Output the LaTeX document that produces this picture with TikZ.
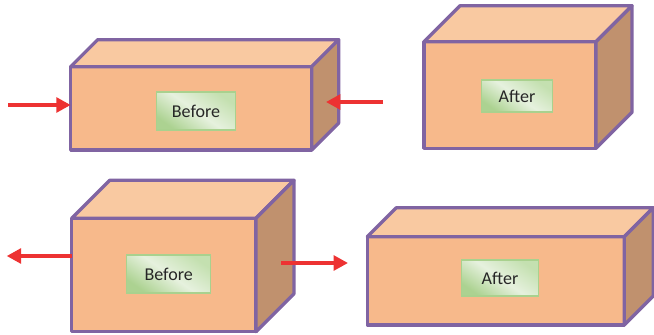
\documentclass[tikz,border=0pt]{standalone}
\usepackage{fontspec}
\setmainfont{Carlito}
\usetikzlibrary{arrows.meta,calc}
\definecolor{facefront}{RGB}{247,185,139}
\definecolor{facetop}{RGB}{249,201,161}
\definecolor{faceside}{RGB}{192,145,110}
\definecolor{edgepurple}{RGB}{128,100,162}
\definecolor{pushred}{RGB}{237,50,50}
\definecolor{tagdark}{RGB}{172,210,145}
\definecolor{tagmid}{RGB}{196,224,176}
\definecolor{taglight}{RGB}{230,241,222}
\definecolor{tagedge}{RGB}{169,209,142}
\newcommand{\px}{0.03cm}
% top and right faces behind a front face node: #1 node, #2 depth
\newcommand{\blockfaces}[2]{%
  \filldraw[topface] (#1.north west) -- ++(#2,-#2) -- ($(#1.north east)+(#2,-#2)$)
    -- (#1.north east) -- cycle;
  \filldraw[sideface] (#1.north east) -- ++(#2,-#2) -- ($(#1.south east)+(#2,-#2)$)
    -- (#1.south east) -- cycle;
}
\tikzset{
  frontface/.style={draw=edgepurple,fill=facefront,line width=2.8pt,line join=round,
    outer sep=0pt,inner sep=0pt,anchor=north west},
  topface/.style={draw=edgepurple,fill=facetop,line width=2.8pt,line join=round},
  sideface/.style={draw=edgepurple,fill=faceside,line width=2.8pt,line join=round},
  tag/.style={draw=tagedge,line width=0.9pt,top color=tagmid,bottom color=tagdark,
    middle color=taglight,shading angle=-35,inner sep=1pt,
    font=\fontsize{15.4}{18}\selectfont,text=black!85},
  force/.style={draw=pushred,line width=3pt,-{Triangle[length=4.3mm,width=4.4mm]}},
}
\begin{document}
\begin{tikzpicture}[x=\px,y=-\px]
  \useasboundingbox (0,0) rectangle (654,334);
  % compressed block
  \node[frontface,minimum width=241*\px,minimum height=83.3*\px] (f1) at (70.7,66.7) {};
  \blockfaces{f1}{27}
  \node[tag,minimum width=79*\px,minimum height=38*\px] (t1) at (196,111) {Before};
  \node[frontface,minimum width=172*\px,minimum height=106.6*\px] (f2) at (424,41.7) {};
  \blockfaces{f2}{36}
  \node[tag,minimum width=71*\px,minimum height=32*\px] (t2) at (517,96) {After};
  \coordinate (p1) at (8,105);
  \draw[force] (p1) -- (p1 -| f1.west);
  \coordinate (p2) at (383,102);
  \coordinate (q2) at (326,102);
  \draw[force] (p2) -- (q2);
  % stretched block
  \node[frontface,minimum width=184.3*\px,minimum height=113.4*\px] (f3) at (71.7,218.3) {};
  \blockfaces{f3}{38}
  \node[tag,minimum width=84*\px,minimum height=38*\px] (t3) at (168.7,274) {Before};
  \node[frontface,minimum width=257*\px,minimum height=88.3*\px] (f4) at (367.3,236.7) {};
  \blockfaces{f4}{29}
  \node[tag,minimum width=77*\px,minimum height=36*\px] (t4) at (500,278) {After};
  \coordinate (q3) at (6.7,256);
  \draw[force] (q3 -| f3.west) -- (q3);
  \coordinate (p4) at (281,263);
  \coordinate (q4) at (348,263);
  \draw[force] (p4) -- (q4);
\end{tikzpicture}
\end{document}
